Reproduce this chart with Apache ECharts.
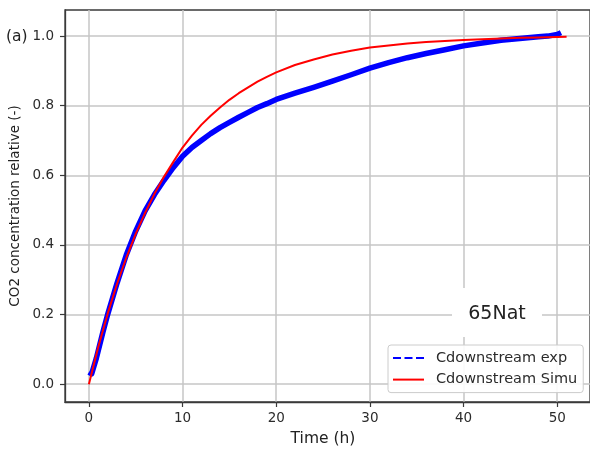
<!DOCTYPE html>
<html>
<head>
<meta charset="utf-8">
<script src="https://cdn.jsdelivr.net/npm/echarts@6/dist/echarts.min.js"></script>
<style>
html,body{margin:0;padding:0;background:#fff;}
#chart{width:590px;height:453px;}
</style>
</head>
<body>
<div id="chart"></div>
<script>
// ---- data ----
const simTime  = [0, 1, 2, 3, 4, 5, 6, 7, 8, 9, 10, 11, 12, 13, 14, 15, 16, 17, 18, 19, 20, 22, 24, 26, 28, 30, 32, 34, 36, 38, 40, 42, 44, 46, 48, 51];
const simValue = [0, 0.107, 0.202, 0.288, 0.364, 0.432, 0.492, 0.547, 0.595, 0.638, 0.68, 0.714, 0.745, 0.771, 0.795, 0.817, 0.836, 0.853, 0.869, 0.883, 0.896, 0.917, 0.933, 0.947, 0.958, 0.967, 0.973, 0.979, 0.983, 0.986, 0.989, 0.991, 0.993, 0.995, 0.996, 0.998];

const expTime  = [0, 0.3, 0.8, 1.5, 2, 3, 4, 5, 6, 7, 8, 9, 10, 11, 12, 13, 14, 15, 16, 17, 18, 19, 20, 22, 24, 26, 28, 30, 32, 34, 36, 38, 40, 42, 44, 46, 48, 49, 50, 50.4];
const expValue = [0.035, 0.03, 0.075, 0.15, 0.2, 0.29, 0.372, 0.44, 0.498, 0.545, 0.585, 0.622, 0.655, 0.68, 0.70, 0.72, 0.737, 0.752, 0.767, 0.781, 0.795, 0.806, 0.818, 0.836, 0.853, 0.871, 0.889, 0.908, 0.924, 0.938, 0.95, 0.961, 0.972, 0.98, 0.988, 0.993, 0.998, 1.0, 1.005, 1.01];

const xTicks = [0, 10, 20, 30, 40, 50];
const yTicks = [0, 0.2, 0.4, 0.6, 0.8, 1.0];

const seriesNames = ['Cdownstream exp', 'Cdownstream Simu'];
const xTitle = 'Time (h)';
const yTitle = 'CO2 concentration relative (-)';
const panelLabel = '(a)';
const sampleLabel = '65Nat';

// ---- chart ----
const FONT = 'DejaVu Sans';
const chart = echarts.init(document.getElementById('chart'), null, {renderer: 'canvas'});

const pairs = (xs, ys) => xs.map((x, i) => [x, ys[i]]);
const hiddenSymbol = {color: 'rgba(0,0,0,0)', borderColor: 'rgba(0,0,0,0)', borderWidth: 0};

const option = {
  animation: false,
  backgroundColor: '#ffffff',
  grid: {
    left: 65, right: -3, top: 10, bottom: 51,
    show: true, borderColor: '#3a3a3a', borderWidth: 1.3, backgroundColor: 'transparent'
  },
  xAxis: {
    type: 'value',
    min: -2.55, max: 53.5,
    axisLine: {show: true, onZero: false, lineStyle: {color: '#3a3a3a', width: 1.3}},
    axisTick: {show: true, customValues: xTicks, length: 5, lineStyle: {color: '#3a3a3a', width: 1.2}},
    axisLabel: {customValues: xTicks, margin: 9, fontSize: 13.5, color: '#2b2b2b', fontFamily: FONT,
      formatter: v => String(Math.round(v))},
    splitLine: {show: true, lineStyle: {color: '#c6c6c6', width: 1.5}}
  },
  yAxis: {
    type: 'value',
    min: -0.051, max: 1.075,
    axisLine: {show: true, onZero: false, lineStyle: {color: '#3a3a3a', width: 1.3}},
    axisTick: {show: true, customValues: yTicks, length: 5, lineStyle: {color: '#3a3a3a', width: 1.2}},
    axisLabel: {customValues: yTicks, margin: 11, fontSize: 13.5, color: '#2b2b2b', fontFamily: FONT,
      formatter: v => v.toFixed(1)},
    splitLine: {show: true, lineStyle: {color: '#c6c6c6', width: 1.5}}
  },
  legend: {
    orient: 'vertical',
    left: 388, top: 345,
    padding: [5, 6, 5, 4],
    itemWidth: 31, itemHeight: 14, itemGap: 5.6,
    backgroundColor: 'rgba(255,255,255,0.9)',
    borderColor: '#cccccc', borderWidth: 1, borderRadius: 3,
    textStyle: {fontSize: 14.5, fontFamily: FONT, color: '#2b2b2b', lineHeight: 16, padding: [0, 0, 0, 7]},
    data: [
      {name: seriesNames[0], itemStyle: hiddenSymbol, lineStyle: {type: [8, 3.5], width: 2, color: '#0000ff'}},
      {name: seriesNames[1], itemStyle: hiddenSymbol, lineStyle: {type: 'solid', width: 2, color: '#ff0000'}}
    ]
  },
  series: [
    {
      name: seriesNames[0],
      type: 'line',
      data: pairs(expTime, expValue),
      showSymbol: false, symbol: 'none',
      smooth: false,
      color: '#0000ff',
      lineStyle: {color: '#0000ff', width: 5.5, join: 'round'},
      z: 2
    },
    {
      name: seriesNames[1],
      type: 'line',
      data: pairs(simTime, simValue),
      showSymbol: false, symbol: 'none',
      smooth: false,
      color: '#ff0000',
      lineStyle: {color: '#ff0000', width: 2, join: 'round'},
      z: 3
    }
  ],
  graphic: [
    {type: 'text', x: 6, y: 37, style: {text: panelLabel, font: '15.5px "DejaVu Sans"', fill: '#222', verticalAlign: 'middle'}},
    {type: 'text', x: 323, y: 439, style: {text: xTitle, font: '15.5px "DejaVu Sans"', fill: '#222', align: 'center', verticalAlign: 'middle'}},
    {type: 'text', x: 15, y: 206, rotation: Math.PI / 2, style: {text: yTitle, font: '13.5px "DejaVu Sans"', fill: '#222', align: 'center', verticalAlign: 'middle'}},
    {type: 'rect', shape: {x: 452, y: 288, width: 90, height: 49}, style: {fill: '#ffffff'}, z: 5},
    {type: 'text', x: 497, y: 314, style: {text: sampleLabel, font: '19px "DejaVu Sans"', fill: '#222', align: 'center', verticalAlign: 'middle'}, z: 6}
  ]
};
chart.setOption(option);
</script>
</body>
</html>
